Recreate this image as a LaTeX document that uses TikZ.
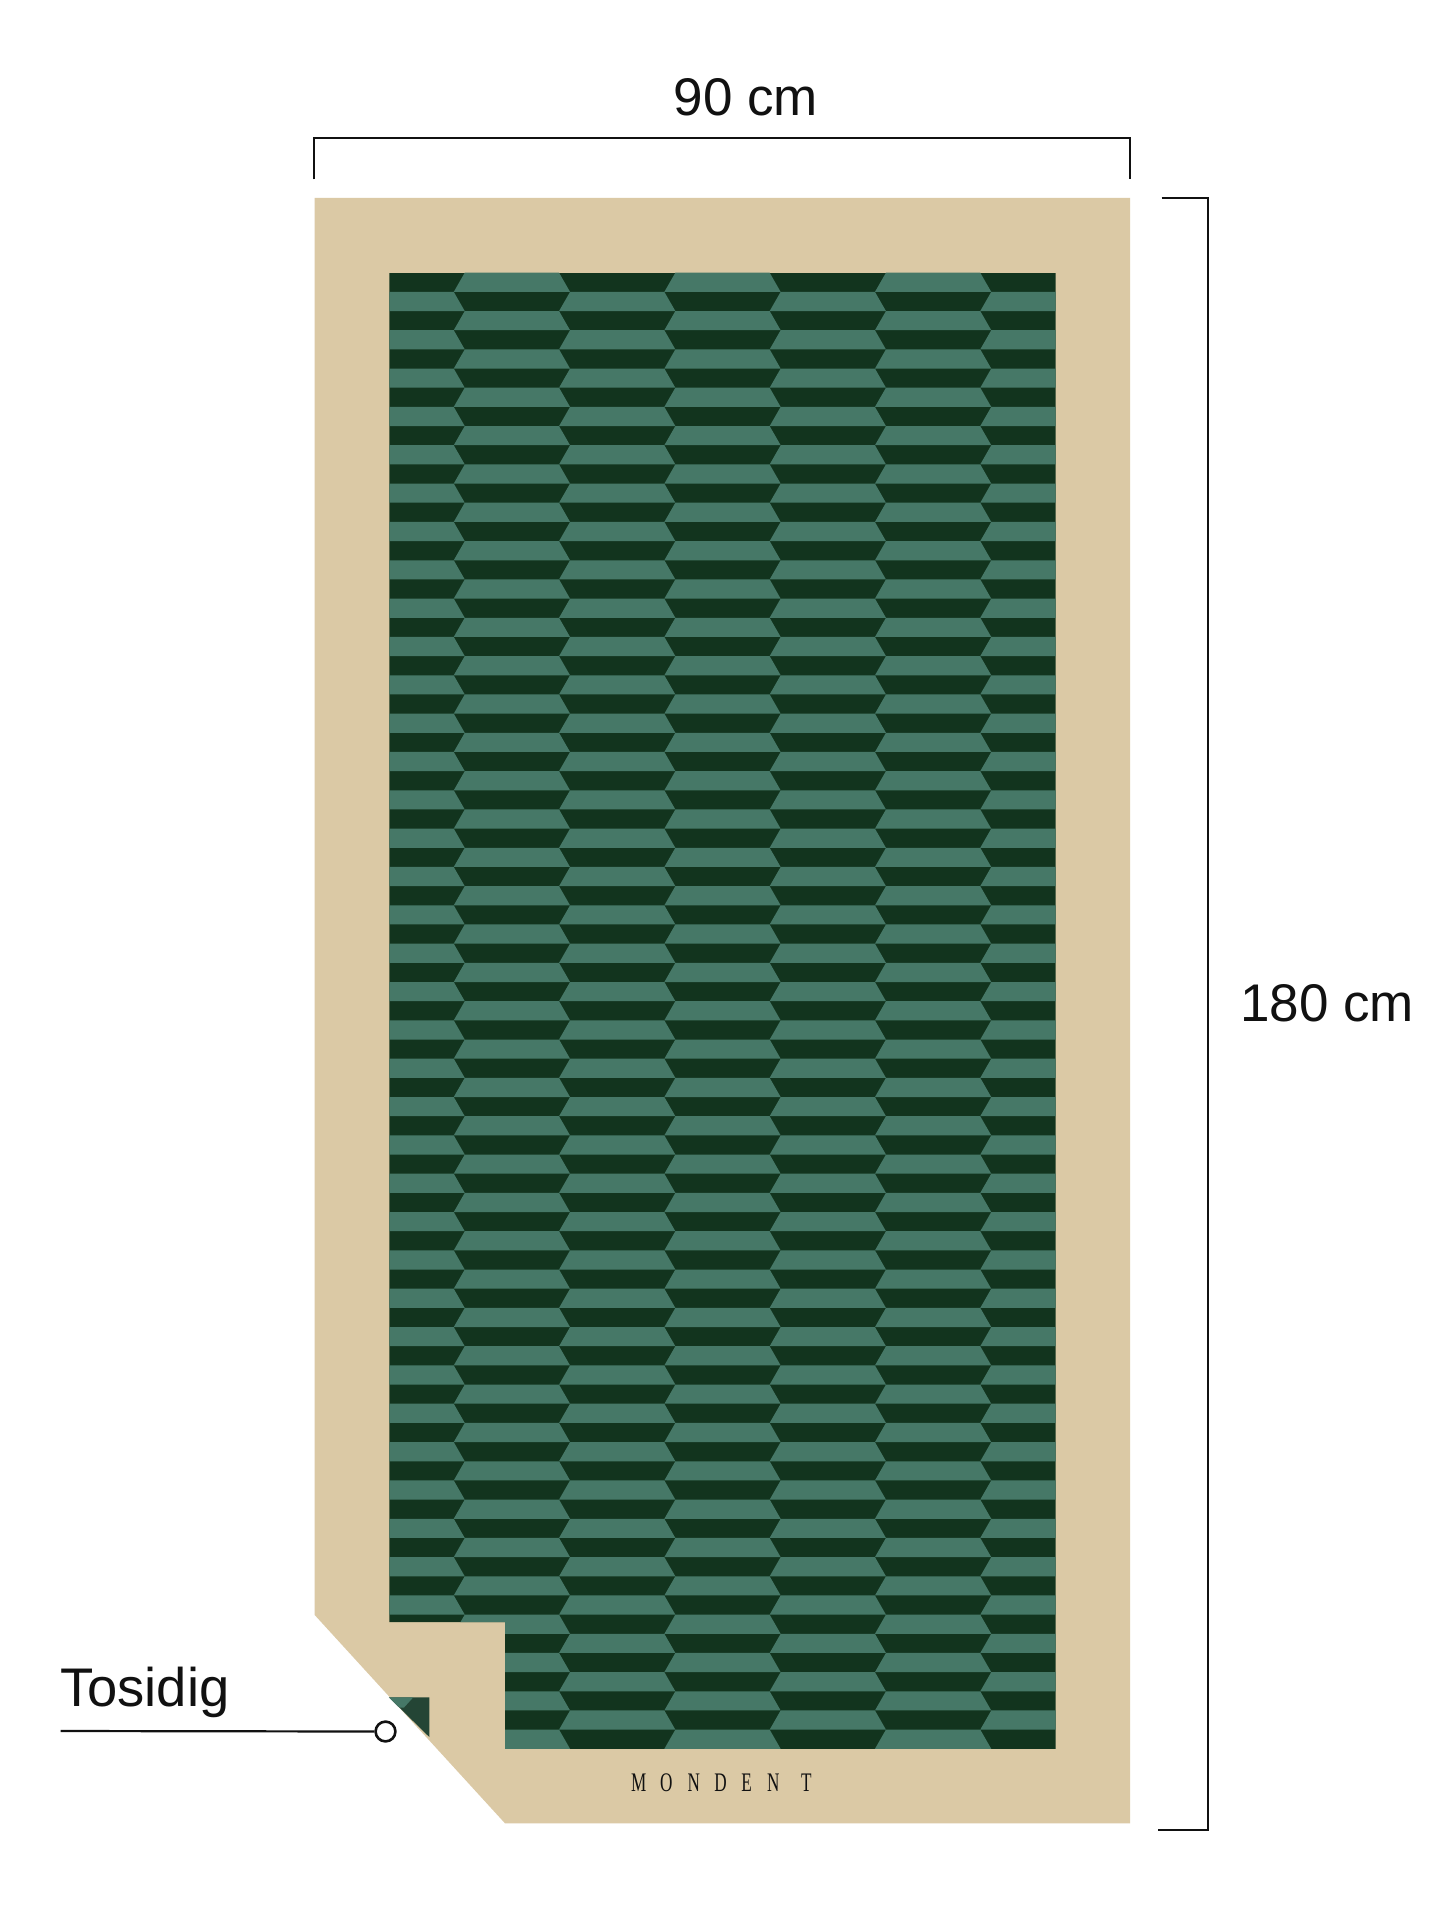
\documentclass[tikz,border=0pt]{standalone}
\usepackage{fontspec}
\newfontfamily\labelfont{Liberation Sans}
\newfontfamily\brandfont{Liberation Serif}
\definecolor{beige}{HTML}{DBC9A5}
\definecolor{lightg}{HTML}{467867}
\definecolor{darkg}{HTML}{12341E}
\definecolor{foldg}{HTML}{244535}
\definecolor{ink}{HTML}{111111}
\begin{document}
\begin{tikzpicture}[x=0.5pt,y=-0.5pt,
  dimline/.style={draw=ink,line width=1pt,line join=miter},
  leader/.style={draw=ink,line width=1.1pt},
  lbl/.style={font=\labelfont\fontsize{26.5}{30}\selectfont,text=ink,inner sep=0pt},
  mletter/.style={font=\brandfont\fontsize{13.4}{15}\selectfont,text=ink,inner sep=0pt,anchor=base,xscale=0.64},
  dotnode/.style={circle,draw=ink,line width=1.3pt,fill=white,minimum size=9.9pt,inner sep=0pt}]
\useasboundingbox (0,0) rectangle (1445,1926);
\fill[white] (0,0) rectangle (1445,1926);
% towel
\fill[beige] (314.7,198) -- (1130,198) -- (1130,1823.3) -- (505,1823.3) -- (314.7,1615) -- cycle;
% pattern
\begin{scope}
  \clip (389.3,272.7) -- (1055.7,272.7) -- (1055.7,1749) -- (505,1749) -- (505,1622) -- (389.3,1622) -- cycle;
  \fill[darkg] (389.3,272.7) rectangle (1055.7,1749);
  \foreach \r in {0,...,76}{
    \foreach \c in {0,...,6}{
      \pgfmathtruncatemacro\odd{mod(\r+\c,2)}
      \ifnum\odd=1
        \pgfmathsetmacro\yt{272.7+\r*19.17}
        \pgfmathsetmacro\yb{\yt+19.17}
        \pgfmathsetmacro\bl{722.5+(\c-3.5)*105.3}
        \pgfmathsetmacro\br{\bl+105.3}
        \fill[lightg] (\bl+5.5,\yt) -- (\br-5.5,\yt) -- (\br+5.5,\yb) -- (\bl-5.5,\yb) -- cycle;
      \fi
    }
  }
\end{scope}
% folded corner piece (back side)
\begin{scope}
  \clip (388.9,1697.3) -- (429.3,1697.3) -- (429.3,1737) -- cycle;
  \fill[foldg] (385,1690) rectangle (435,1740);
  \fill[lightg] (385,1697.3) -- (413.3,1697.3) -- (404,1707.5) -- (385,1707.5) -- cycle;
\end{scope}
% brand
\foreach \ch/\xx [count=\i] in {M/638.7,O/666.3,N/693.7,D/720.5,E/746.7,N/773.3,T/806.3}
  \node[mletter] (brand\i) at (\xx,1791) {\ch};
% width dimension
\coordinate (wl) at (314.4,179.3);
\coordinate (wlt) at (314.4,137.7);
\coordinate (wrt) at (1129.5,137.7);
\coordinate (wr) at (1129.5,179.3);
\draw[dimline] (wl) -- (wlt) -- (wrt) -- (wr);
\node[lbl,anchor=base] (wlabel) at (746,116) {90 cm};
% height dimension
\coordinate (ht) at (1161.7,198.3);
\coordinate (htr) at (1208.3,198.3);
\coordinate (hbr) at (1208.3,1830);
\coordinate (hb) at (1158.3,1830);
\draw[dimline] (ht) -- (htr) -- (hbr) -- (hb);
\node[lbl,anchor=base] (hlabel) at (1327,1021.7) {180 cm};
% two-sided callout
\node[lbl,anchor=base west,font=\labelfont\fontsize{27.2}{30}\selectfont] (tosidig) at (59.7,1706.7) {Tosidig};
\coordinate (leadstart) at (60.7,1731);
\node[dotnode] (dot) at (385.5,1731.5) {};
\draw[leader] (leadstart) -- (dot.west);
\end{tikzpicture}
\end{document}
